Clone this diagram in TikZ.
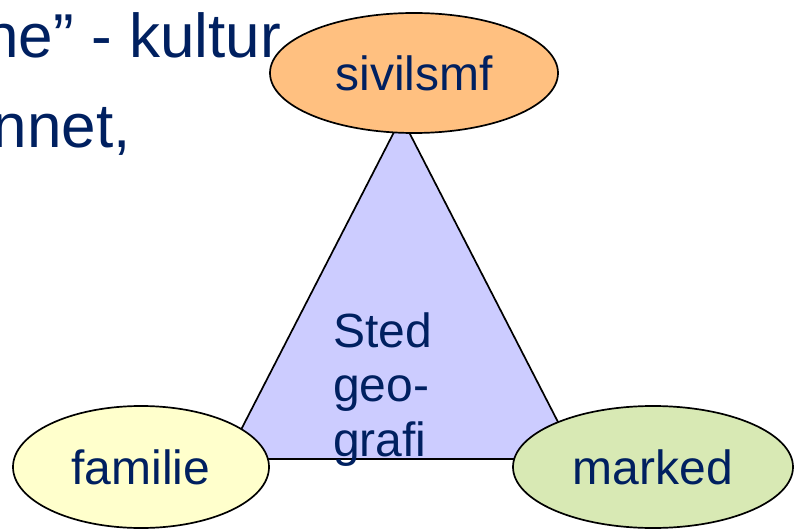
\documentclass[tikz,border=0pt]{standalone}
\usepackage{fontspec}
\setmainfont{Liberation Sans}
\usetikzlibrary{shapes.geometric}
\definecolor{navy}{RGB}{0,32,96}
\definecolor{orangefill}{RGB}{255,192,128}
\definecolor{yellowfill}{RGB}{255,255,204}
\definecolor{greenfill}{RGB}{216,233,180}
\definecolor{trifill}{RGB}{204,204,255}
\tikzset{
  oval/.style={ellipse, draw=black, line width=1.7pt, inner sep=0pt,
    text=navy, font=\fontsize{48}{54}\selectfont},
  bigtext/.style={text=navy, inner sep=0pt, font=\fontsize{62}{70}\selectfont},
  midtext/.style={text=navy, inner sep=0pt, anchor=base west, font=\fontsize{48}{54}\selectfont}
}
\begin{document}
\begin{tikzpicture}[x=1pt,y=-1pt]
\useasboundingbox (0,0) rectangle (794,529);
\node[bigtext, anchor=base east] (l1) at (281,58) {ne” - kultur};
\node[bigtext, anchor=base east] (l2) at (131,148) {nnet,};
\coordinate (apex) at (401.5,117.5);
\coordinate (bl) at (226,459);
\coordinate (br) at (577,459);
\draw[fill=trifill, line width=1.7pt, line join=miter] (apex) -- (bl) -- (br) -- cycle;
\node[midtext] (t1) at (333,347) {Sted};
\node[midtext] (t2) at (333,401) {geo-};
\node[midtext] (t3) at (333,456) {grafi};
\node[oval, fill=orangefill, minimum width=288pt, minimum height=120pt] (siv) at (414,73) {sivilsmf};
\node[oval, fill=yellowfill, minimum width=256pt, minimum height=122pt] (fam) at (141,467) {familie};
\node[oval, fill=greenfill, minimum width=280pt, minimum height=122pt] (mar) at (653,467) {marked};
\end{tikzpicture}
\end{document}
